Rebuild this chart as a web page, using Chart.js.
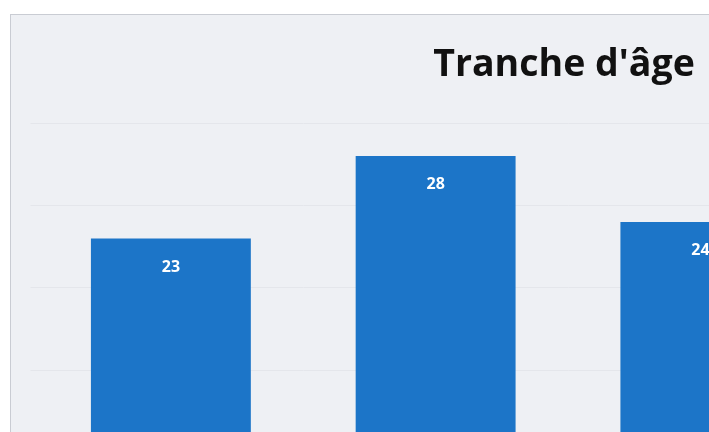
<!DOCTYPE html>
<html>
<head>
<meta charset="utf-8">
<script src="https://cdn.jsdelivr.net/npm/chart.js@4"></script>
<style>
  html, body { margin: 0; padding: 0; background: #ffffff; overflow: hidden; }
  #frame {
    position: absolute; left: 10px; top: 14px;
    width: 1116px; height: 656px;
    background: #eef0f4;
    border-left: 1px solid #c9ccd3; border-top: 1px solid #c9ccd3;
  }
</style>
</head>
<body>
<div id="frame"><canvas id="ageChart"></canvas></div>
<script>
// Age brackets (the last one is outside the visible crop)
const categories = ["18-25 ans", "26-35 ans", "36-45 ans", "46 ans et +"];
const counts = [23, 28, 24, 12];
const yTicks = [0, 5, 10, 15, 20, 25, 30];

// simple inline data labels, drawn inside the top of each bar
const barLabels = {
    id: "barLabels",
    afterDatasetsDraw(chart) {
        const ctx = chart.ctx;
        const meta = chart.getDatasetMeta(0);
        ctx.save();
        ctx.fillStyle = "#ffffff";
        ctx.font = "bold 16px 'Open Sans'";
        ctx.textAlign = "center";
        ctx.textBaseline = "middle";
        meta.data.forEach(function (bar, i) {
            ctx.fillText(counts[i], bar.x, bar.y + 28.5);
        });
        ctx.restore();
    }
};

new Chart(document.getElementById("ageChart"), {
    type: "bar",
    data: {
        labels: categories,
        datasets: [{
            label: "Tranche d'âge",
            data: counts,
            backgroundColor: "#1c75c8",
            categoryPercentage: 1,
            barPercentage: 0.604
        }]
    },
    options: {
        responsive: true,
        maintainAspectRatio: false,
        animation: false,
        layout: { padding: { left: 19.5, right: 29.5, top: 28, bottom: 20 } },
        plugins: {
            legend: { display: false },
            tooltip: { enabled: false },
            title: {
                display: true,
                text: "Tranche d'âge",
                color: "#111111",
                font: { family: "'Open Sans'", size: 37.5, weight: "bold" },
                padding: { top: 0, bottom: 35 }
            }
        },
        scales: {
            x: {
                grid: { display: false },
                border: { display: false },
                ticks: { color: "#333333", font: { family: "'Open Sans'", size: 16 } }
            },
            y: {
                min: 0,
                max: 30,
                afterBuildTicks(axis) {
                    axis.ticks = yTicks.map(v => ({ value: v }));
                },
                ticks: { display: false },
                border: { display: false },
                grid: { color: "#e4e6eb", lineWidth: 1 }
            }
        }
    },
    plugins: [barLabels]
});
</script>
</body>
</html>
